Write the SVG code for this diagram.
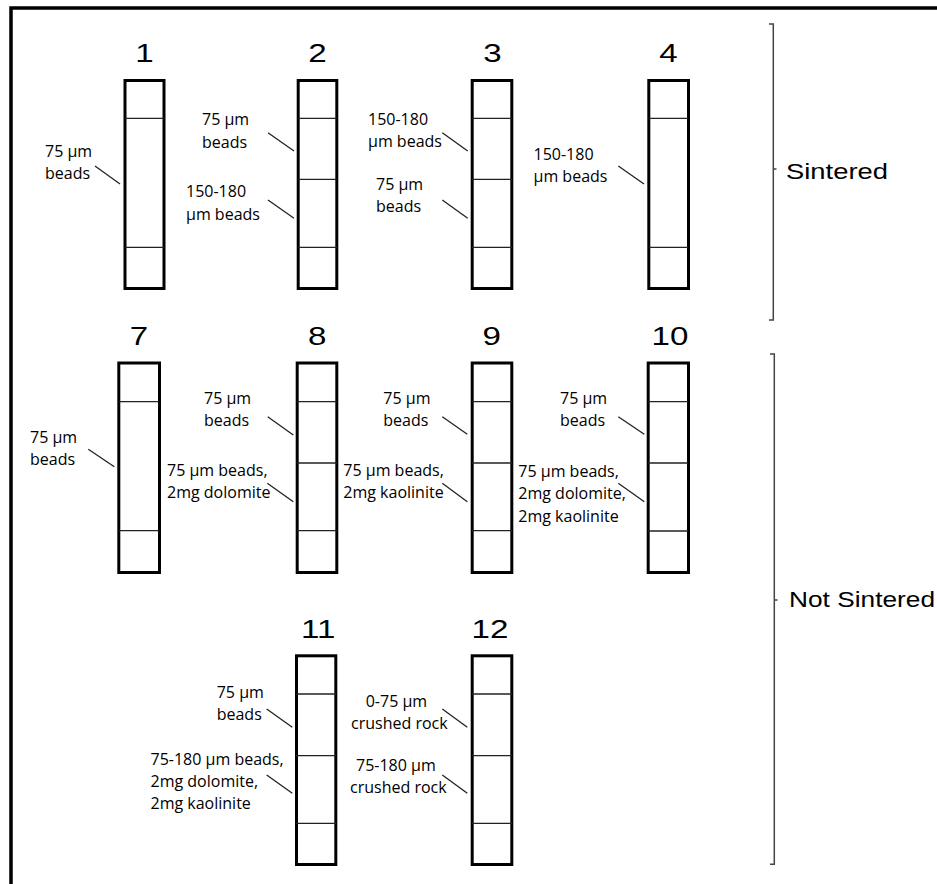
<svg xmlns="http://www.w3.org/2000/svg" width="937" height="884" viewBox="0 0 937 884">
  <style>
    .frame { fill: none; stroke: #000; stroke-width: 3.5; }
    .tube { fill: #fff; stroke: #000; stroke-width: 3; }
    .layer { stroke: #222; stroke-width: 1.3; }
    .lead { stroke: #222; stroke-width: 1.3; fill: none; }
    .brace { stroke: #444; stroke-width: 1.5; fill: none; }
    .num { font-family: "Liberation Sans", Arial, sans-serif; font-size: 25.5px; fill: #000; text-anchor: middle; }
    .lbl { font-family: "Open Sans", "Noto Sans", sans-serif; font-size: 16px; fill: #000; }
    .grp { font-family: "Liberation Sans", Arial, sans-serif; font-size: 22px; fill: #000; }
  </style>

  <rect width="937" height="884" fill="#fff"/>
  <!-- outer frame (open to the right and bottom) -->
  <rect class="frame" x="11" y="8" width="940" height="890"/>

  <!-- ===== Sintered row ===== -->
  <g id="col1">
    <text class="num" transform="translate(144.5 62) scale(1.3 1)">1</text>
    <rect class="tube" x="125" y="80.5" width="39" height="208"/>
    <line class="layer" x1="125" y1="118.3" x2="164" y2="118.3"/>
    <line class="layer" x1="125" y1="247.3" x2="164" y2="247.3"/>
    <text class="lbl" x="45" y="157">75 µm</text>
    <text class="lbl" x="45" y="179">beads</text>
  </g>

  <g id="col2">
    <text class="num" transform="translate(317.5 62) scale(1.3 1)">2</text>
    <rect class="tube" x="298.2" y="80.5" width="38.6" height="208"/>
    <line class="layer" x1="298" y1="118.3" x2="337" y2="118.3"/>
    <line class="layer" x1="298" y1="179.3" x2="337" y2="179.3"/>
    <line class="layer" x1="298" y1="247.3" x2="337" y2="247.3"/>
    <text class="lbl" x="202" y="125">75 µm</text>
    <text class="lbl" x="202" y="147.5">beads</text>
    <text class="lbl" x="186" y="197">150-180</text>
    <text class="lbl" x="186" y="219.5">µm beads</text>
  </g>

  <g id="col3">
    <text class="num" transform="translate(492.5 62) scale(1.3 1)">3</text>
    <rect class="tube" x="472.2" y="80.5" width="39.6" height="208"/>
    <line class="layer" x1="472" y1="118.3" x2="512" y2="118.3"/>
    <line class="layer" x1="472" y1="179.3" x2="512" y2="179.3"/>
    <line class="layer" x1="472" y1="247.3" x2="512" y2="247.3"/>
    <text class="lbl" x="368" y="125">150-180</text>
    <text class="lbl" x="368" y="147">µm beads</text>
    <text class="lbl" x="376" y="190">75 µm</text>
    <text class="lbl" x="376" y="212">beads</text>
  </g>

  <g id="col4">
    <text class="num" transform="translate(668.5 62) scale(1.3 1)">4</text>
    <rect class="tube" x="648.8" y="80.5" width="39.7" height="208"/>
    <line class="layer" x1="649" y1="118.3" x2="688" y2="118.3"/>
    <line class="layer" x1="649" y1="247.3" x2="688" y2="247.3"/>
    <text class="lbl" x="533.5" y="159.5">150-180</text>
    <text class="lbl" x="533.5" y="181.5">µm beads</text>
  </g>

  <!-- ===== Not sintered, upper row ===== -->
  <g id="col7">
    <text class="num" transform="translate(139 345) scale(1.3 1)">7</text>
    <rect class="tube" x="118.8" y="363" width="40.7" height="209.5"/>
    <line class="layer" x1="119" y1="401.7" x2="159" y2="401.7"/>
    <line class="layer" x1="119" y1="530.7" x2="159" y2="530.7"/>
    <text class="lbl" x="30" y="443">75 µm</text>
    <text class="lbl" x="30" y="464.5">beads</text>
  </g>

  <g id="col8">
    <text class="num" transform="translate(317.3 345) scale(1.3 1)">8</text>
    <rect class="tube" x="297.2" y="363" width="39.6" height="209.5"/>
    <line class="layer" x1="297" y1="401.7" x2="337" y2="401.7"/>
    <line class="layer" x1="297" y1="463" x2="337" y2="463"/>
    <line class="layer" x1="297" y1="530.7" x2="337" y2="530.7"/>
    <text class="lbl" x="204" y="404">75 µm</text>
    <text class="lbl" x="204" y="426">beads</text>
    <text class="lbl" x="167" y="475.7">75 µm beads,</text>
    <text class="lbl" x="167" y="497.7">2mg dolomite</text>
  </g>

  <g id="col9">
    <text class="num" transform="translate(491.7 345) scale(1.3 1)">9</text>
    <rect class="tube" x="472.2" y="363" width="39.6" height="209.5"/>
    <line class="layer" x1="472" y1="401.7" x2="512" y2="401.7"/>
    <line class="layer" x1="472" y1="463" x2="512" y2="463"/>
    <line class="layer" x1="472" y1="530.7" x2="512" y2="530.7"/>
    <text class="lbl" x="383.3" y="404">75 µm</text>
    <text class="lbl" x="383.3" y="426">beads</text>
    <text class="lbl" x="343.3" y="475.7">75 µm beads,</text>
    <text class="lbl" x="343.3" y="497.7">2mg kaolinite</text>
  </g>

  <g id="col10">
    <text class="num" transform="translate(670 345) scale(1.3 1)">10</text>
    <rect class="tube" x="648.2" y="363" width="40.3" height="209.5"/>
    <line class="layer" x1="648" y1="401.7" x2="688" y2="401.7"/>
    <line class="layer" x1="648" y1="463" x2="688" y2="463"/>
    <line class="layer" x1="648" y1="531" x2="688" y2="531"/>
    <text class="lbl" x="560" y="404">75 µm</text>
    <text class="lbl" x="560" y="426">beads</text>
    <text class="lbl" x="518.3" y="477.3">75 µm beads,</text>
    <text class="lbl" x="518.3" y="499.3">2mg dolomite,</text>
    <text class="lbl" x="518.3" y="521.5">2mg kaolinite</text>
  </g>

  <!-- ===== Not sintered, lower row ===== -->
  <g id="col11">
    <text class="num" transform="translate(318.3 638.3) scale(1.3 1)">11</text>
    <rect class="tube" x="296.5" y="655.8" width="39.3" height="208.7"/>
    <line class="layer" x1="296" y1="694" x2="336" y2="694"/>
    <line class="layer" x1="296" y1="755.7" x2="336" y2="755.7"/>
    <line class="layer" x1="296" y1="823.3" x2="336" y2="823.3"/>
    <text class="lbl" x="216.7" y="698.3">75 µm</text>
    <text class="lbl" x="216.7" y="720">beads</text>
    <text class="lbl" x="150.5" y="765">75-180 µm beads,</text>
    <text class="lbl" x="150.5" y="786.7">2mg dolomite,</text>
    <text class="lbl" x="150.5" y="809">2mg kaolinite</text>
  </g>

  <g id="col12">
    <text class="num" transform="translate(490 638.3) scale(1.3 1)">12</text>
    <rect class="tube" x="472.2" y="655.8" width="39.6" height="208.7"/>
    <line class="layer" x1="472" y1="694" x2="512" y2="694"/>
    <line class="layer" x1="472" y1="755.7" x2="512" y2="755.7"/>
    <line class="layer" x1="472" y1="823.3" x2="512" y2="823.3"/>
    <text class="lbl" x="365.7" y="706.7">0-75 µm</text>
    <text class="lbl" x="351" y="729">crushed rock</text>
    <text class="lbl" x="356" y="770.7">75-180 µm</text>
    <text class="lbl" x="350" y="792.7">crushed rock</text>
  </g>

  <!-- leader lines from labels to layers -->
  <g id="leaders">
    <line class="lead" x1="95" y1="166" x2="120" y2="184"/>
    <line class="lead" x1="268" y1="132.7" x2="294" y2="151"/>
    <line class="lead" x1="268" y1="200" x2="294" y2="218.3"/>
    <line class="lead" x1="442.3" y1="132.7" x2="467.7" y2="151"/>
    <line class="lead" x1="442.3" y1="200" x2="467.7" y2="218.3"/>
    <line class="lead" x1="618.3" y1="166" x2="644" y2="184"/>

    <line class="lead" x1="88.3" y1="449.3" x2="114.3" y2="466.7"/>
    <line class="lead" x1="267.7" y1="416.7" x2="293.3" y2="435"/>
    <line class="lead" x1="267.3" y1="483.3" x2="293.3" y2="501.7"/>
    <line class="lead" x1="442.3" y1="416.7" x2="467.3" y2="434.3"/>
    <line class="lead" x1="442.3" y1="483.3" x2="467.3" y2="501.7"/>
    <line class="lead" x1="618.3" y1="416.7" x2="644.3" y2="434.3"/>
    <line class="lead" x1="618.3" y1="483.3" x2="644.3" y2="501.7"/>

    <line class="lead" x1="266.7" y1="709" x2="292.3" y2="727.3"/>
    <line class="lead" x1="266.7" y1="775" x2="292.3" y2="793.3"/>
    <line class="lead" x1="442.3" y1="709" x2="467.3" y2="727.3"/>
    <line class="lead" x1="442.3" y1="775" x2="467.3" y2="793.3"/>
  </g>

  <!-- group braces -->
  <g id="sintered">
    <path class="brace" d="M769 24 H773.3 V320 H769 M773.3 169 H776.5"/>
    <text class="grp" x="786" y="179" textLength="102" lengthAdjust="spacingAndGlyphs">Sintered</text>
  </g>
  <g id="not-sintered">
    <path class="brace" d="M770 354 H774.3 V864.3 H770 M774.3 600 H777.5"/>
    <text class="grp" x="789" y="607.3" textLength="146" lengthAdjust="spacingAndGlyphs">Not Sintered</text>
  </g>
</svg>
